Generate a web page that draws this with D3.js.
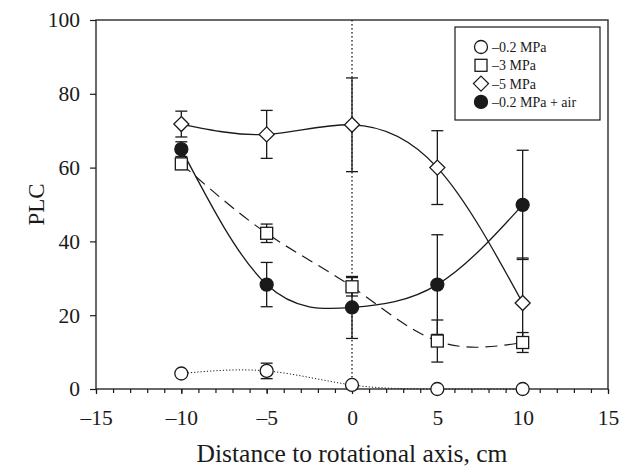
<!DOCTYPE html>
<html>
<head>
<meta charset="utf-8">
<script src="https://cdn.jsdelivr.net/npm/d3@7"></script>
<style>
  body { margin: 0; background: #fff; }
  svg { display: block; font-family: "Liberation Serif", "Times New Roman", serif; }
</style>
</head>
<body>
<div id="chart"></div>
<script>
// ---------------------------------------------------------
// data – PLC vs distance to rotational axis
// ---------------------------------------------------------
const distances = [-10, -5, 0, 5, 10];

const plcLow = [4.2, 4.9, 1.1, 0, 0];
const errLow = [0, 2.1, 0, 0, 0];

const plc3 = [61, 42.2, 27.7, 13, 12.6];
const err3 = [1.5, 2.5, 2.5, 5.7, 2.7];

const plc5 = [71.8, 69, 71.6, 60, 23.3];
const err5 = [3.5, 6.5, 12.7, 10, 12.2];

const plcAir = [65, 28.3, 22.1, 28.3, 49.9];
const errAir = [2, 6, 8.4, 13.5, 14.8];

const legendLabels = ["\u20130.2 MPa", "\u20133 MPa", "\u20135 MPa", "\u20130.2 MPa + air"];
const xTicks = [-15, -10, -5, 0, 5, 10, 15];
const yTicks = [0, 20, 40, 60, 80, 100];

// ---------------------------------------------------------
// svg + scales
// ---------------------------------------------------------
const width = 620, height = 469;
const margin = { top: 20, right: 12, bottom: 80, left: 96 };
const ink = "#1a1a1a";

const svg = d3.select("#chart").append("svg")
    .attr("width", width)
    .attr("height", height);

const x = d3.scaleLinear().domain([-15, 15]).range([margin.left, width - margin.right]);
const y = d3.scaleLinear().domain([0, 100]).range([height - margin.bottom, margin.top]);

const fmt = d => d < 0 ? "\u2013" + Math.abs(d) : String(d);

// frame
svg.append("rect")
    .attr("x", x(-15)).attr("y", y(100))
    .attr("width", x(15) - x(-15)).attr("height", y(0) - y(100))
    .attr("fill", "none").attr("stroke", ink).attr("stroke-width", 1.3);

// x axis: minor ticks every 1, labelled majors every 5
const xAxis = svg.append("g").attr("transform", `translate(0,${y(0)})`);
xAxis.call(d3.axisBottom(x).tickValues(d3.range(-15, 16, 1)).tickSize(4).tickFormat(""));
xAxis.call(g => g.select(".domain").remove());
const xMajor = svg.append("g").attr("transform", `translate(0,${y(0)})`)
    .call(d3.axisBottom(x).tickValues(xTicks).tickSize(5).tickPadding(16).tickFormat(fmt));
xMajor.select(".domain").remove();
svg.selectAll(".tick line").attr("stroke", ink).attr("stroke-width", 1.2);
xMajor.selectAll("text").attr("font-size", 21.5).attr("fill", ink)
    .attr("font-family", "Liberation Serif");

const yAxis = svg.append("g").attr("transform", `translate(${x(-15)},0)`)
    .call(d3.axisLeft(y).tickValues(yTicks).tickSize(6).tickPadding(10).tickFormat(fmt));
yAxis.select(".domain").remove();
yAxis.selectAll("line").attr("stroke", ink).attr("stroke-width", 1.2);
yAxis.selectAll("text").attr("font-size", 21.5).attr("fill", ink)
    .attr("font-family", "Liberation Serif");

// axis titles
svg.append("text")
    .attr("x", (x(-15) + x(15)) / 2).attr("y", 462)
    .attr("text-anchor", "middle").attr("font-size", 25.5).attr("fill", ink)
    .text("Distance to rotational axis, cm");

svg.append("text")
    .attr("transform", `translate(44,${(y(0) + y(100)) / 2}) rotate(-90)`)
    .attr("text-anchor", "middle").attr("font-size", 23).attr("fill", ink)
    .text("PLC");

// vertical dotted line at the axis
svg.append("line")
    .attr("x1", x(0)).attr("x2", x(0)).attr("y1", y(100)).attr("y2", y(0))
    .attr("stroke", ink).attr("stroke-width", 1.3).attr("stroke-dasharray", "1.5,2.5");

// ---------------------------------------------------------
// series
// ---------------------------------------------------------
const series = [
  { values: plcLow, errors: errLow, marker: "circle", fill: "#fff", dash: "1.2,2", width: 1 },
  { values: plc3, errors: err3, marker: "square", fill: "#fff", dash: "12,7", width: 1.2 },
  { values: plc5, errors: err5, marker: "diamond", fill: "#fff", dash: null, width: 1.3 },
  { values: plcAir, errors: errAir, marker: "dot", fill: ink, dash: null, width: 1.3 }
];

const line = d3.line().curve(d3.curveNatural).x(d => x(d[0])).y(d => y(d[1]));

function drawMarker(g, kind, cx, cy, fill) {
  if (kind === "circle" || kind === "dot") {
    g.append("circle").attr("cx", cx).attr("cy", cy).attr("r", 6.5)
      .attr("fill", fill).attr("stroke", ink).attr("stroke-width", 1.3);
  } else if (kind === "square") {
    g.append("rect").attr("x", cx - 6).attr("y", cy - 6).attr("width", 12).attr("height", 12)
      .attr("fill", fill).attr("stroke", ink).attr("stroke-width", 1.3);
  } else {
    const s = 7.5;
    g.append("path").attr("d", `M${cx},${cy - s}L${cx + s},${cy}L${cx},${cy + s}L${cx - s},${cy}Z`)
      .attr("fill", fill).attr("stroke", ink).attr("stroke-width", 1.3);
  }
}

const errG = svg.append("g");
const lineG = svg.append("g");
const markG = svg.append("g");

series.forEach(s => {
  const pts = distances.map((d, i) => [d, s.values[i]]);

  s.errors.forEach((e, i) => {
    if (!e) return;
    const cx = x(distances[i]);
    const y1 = y(s.values[i] + e), y2 = y(s.values[i] - e);
    errG.append("line").attr("x1", cx).attr("x2", cx).attr("y1", y1).attr("y2", y2)
      .attr("stroke", ink).attr("stroke-width", 1.3);
    [y1, y2].forEach(yy => errG.append("line")
      .attr("x1", cx - 6).attr("x2", cx + 6).attr("y1", yy).attr("y2", yy)
      .attr("stroke", ink).attr("stroke-width", 1.3));
  });

  lineG.append("path").attr("d", line(pts))
    .attr("fill", "none").attr("stroke", ink).attr("stroke-width", s.width)
    .attr("stroke-dasharray", s.dash);

  pts.forEach(p => drawMarker(markG, s.marker, x(p[0]), y(p[1]), s.fill));
});

// ---------------------------------------------------------
// legend
// ---------------------------------------------------------
const legend = svg.append("g");
legend.append("rect")
    .attr("x", 455).attr("y", 27).attr("width", 145).attr("height", 93)
    .attr("fill", "#fff").attr("stroke", ink).attr("stroke-width", 1.2);

series.forEach((s, i) => {
  const ly = 47 + i * 18.3;
  drawMarker(legend, s.marker, 481, ly, s.fill);
  legend.append("text")
    .attr("x", 492).attr("y", ly).attr("dy", "0.35em")
    .attr("font-size", 14).attr("fill", ink)
    .text(legendLabels[i]);
});
</script>
</body>
</html>
